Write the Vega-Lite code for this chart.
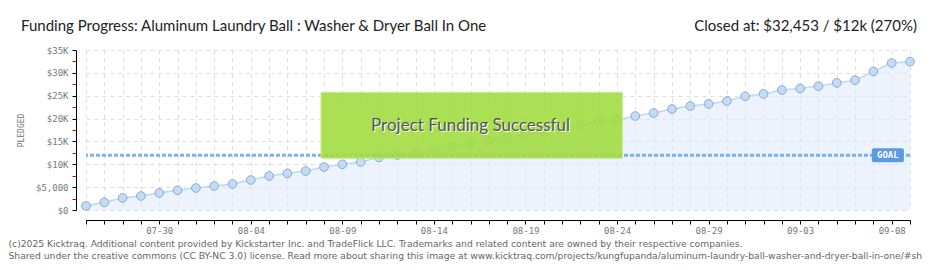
{
  "$schema": "https://vega.github.io/schema/vega-lite/v6.json",
  "width": 824,
  "height": 160,
  "autosize": {"type": "none"},
  "padding": {"left": 86, "top": 50, "right": 30, "bottom": 60},
  "background": "white",
  "config": {
    "view": {"stroke": null},
    "axis": {
      "labelFont": "DejaVu Sans Mono",
      "labelFontSize": 9,
      "labelColor": "#777777",
      "domainColor": "#000000",
      "tickColor": "#000000",
      "gridColor": "#dddddd",
      "gridDash": [4, 4]
    }
  },
  "data": {
    "values": [
      {"date": "2025-07-26", "pledged": 880},
      {"date": "2025-07-27", "pledged": 1680},
      {"date": "2025-07-28", "pledged": 2630},
      {"date": "2025-07-29", "pledged": 3060},
      {"date": "2025-07-30", "pledged": 3720},
      {"date": "2025-07-31", "pledged": 4300},
      {"date": "2025-08-01", "pledged": 4810},
      {"date": "2025-08-02", "pledged": 5250},
      {"date": "2025-08-03", "pledged": 5690},
      {"date": "2025-08-04", "pledged": 6560},
      {"date": "2025-08-05", "pledged": 7440},
      {"date": "2025-08-06", "pledged": 8020},
      {"date": "2025-08-07", "pledged": 8530},
      {"date": "2025-08-08", "pledged": 9410},
      {"date": "2025-08-09", "pledged": 10000},
      {"date": "2025-08-10", "pledged": 10500},
      {"date": "2025-08-11", "pledged": 11500},
      {"date": "2025-08-12", "pledged": 12030},
      {"date": "2025-08-13", "pledged": 12400},
      {"date": "2025-08-14", "pledged": 13050},
      {"date": "2025-08-15", "pledged": 14000},
      {"date": "2025-08-16", "pledged": 14660},
      {"date": "2025-08-17", "pledged": 15160},
      {"date": "2025-08-18", "pledged": 15800},
      {"date": "2025-08-19", "pledged": 16500},
      {"date": "2025-08-20", "pledged": 17100},
      {"date": "2025-08-21", "pledged": 17800},
      {"date": "2025-08-22", "pledged": 18600},
      {"date": "2025-08-23", "pledged": 19470},
      {"date": "2025-08-24", "pledged": 19700},
      {"date": "2025-08-25", "pledged": 20560},
      {"date": "2025-08-26", "pledged": 21200},
      {"date": "2025-08-27", "pledged": 22100},
      {"date": "2025-08-28", "pledged": 22750},
      {"date": "2025-08-29", "pledged": 23200},
      {"date": "2025-08-30", "pledged": 23850},
      {"date": "2025-08-31", "pledged": 24870},
      {"date": "2025-09-01", "pledged": 25400},
      {"date": "2025-09-02", "pledged": 26250},
      {"date": "2025-09-03", "pledged": 26600},
      {"date": "2025-09-04", "pledged": 27100},
      {"date": "2025-09-05", "pledged": 27800},
      {"date": "2025-09-06", "pledged": 28400},
      {"date": "2025-09-07", "pledged": 30300},
      {"date": "2025-09-08", "pledged": 32160},
      {"date": "2025-09-09", "pledged": 32453}
    ]
  },
  "encoding": {
    "x": {
      "field": "date",
      "type": "temporal",
      "scale": {
        "type": "utc",
        "nice": false,
        "domain": [
          {"year": 2025, "month": 7, "date": 26, "utc": true},
          {"year": 2025, "month": 9, "date": 9, "utc": true}
        ]
      },
      "axis": {
        "offset": 10,
        "tickCount": {"interval": "day", "step": 1},
        "tickSize": 4,
        "labelPadding": 2,
        "labelFlush": false,
        "labelOverlap": false,
        "labelExpr": "round((datum.value - 1753833600000) / 86400000) % 5 == 0 ? utcFormat(datum.value, '%m-%d') : ''",
        "grid": true,
        "title": [
          "(c)2025 Kicktraq. Additional content provided by Kickstarter Inc. and TradeFlick LLC. Trademarks and related content are owned by their respective companies.",
          "Shared under the creative commons (CC BY-NC 3.0) license. Read more about sharing this image at www.kicktraq.com/projects/kungfupanda/aluminum-laundry-ball-washer-and-dryer-ball-in-one/#sh"
        ],
        "titleFont": "DejaVu Sans",
        "titleFontSize": 9.2,
        "titleFontWeight": "normal",
        "titleColor": "#666666",
        "titleAnchor": "start",
        "titleAlign": "left",
        "titleBaseline": "top",
        "titleLineHeight": 12.5,
        "titleX": -78,
        "titleY": 19
      }
    },
    "y": {
      "field": "pledged",
      "type": "quantitative",
      "scale": {"domain": [0, 35000], "nice": false},
      "axis": {
        "offset": 10,
        "values": [0, 2500, 5000, 7500, 10000, 12500, 15000, 17500, 20000, 22500, 25000, 27500, 30000, 32500, 35000],
        "tickSize": 4,
        "labelPadding": 4,
        "tickColor": {"condition": {"test": "datum.value % 5000 != 0", "value": "#e00000"}, "value": "#000000"},
        "gridOpacity": {"condition": {"test": "datum.value % 5000 != 0", "value": 0}, "value": 1},
        "labelExpr": "datum.value % 5000 != 0 ? '' : (datum.value == 0 ? '$0' : (datum.value == 5000 ? '$5,000' : '$' + (datum.value / 1000) + 'K'))",
        "title": "PLEDGED",
        "titleFont": "DejaVu Sans Mono",
        "titleFontSize": 8,
        "titleFontWeight": "normal",
        "titleColor": "#777777",
        "titlePadding": 10
      }
    }
  },
  "layer": [
    {"mark": {"type": "area", "color": "#dce9fa", "opacity": 0.55}},
    {"mark": {"type": "line", "color": "#bcd8f4", "strokeWidth": 1.5}},
    {"mark": {"type": "point", "filled": true, "fill": "#c2dbf7", "stroke": "#8ea8c9", "strokeWidth": 1, "size": 75, "opacity": 1}},
    {
      "data": {"values": [{"goal": 12000}]},
      "mark": {"type": "rule", "color": "#7fb2e6", "strokeWidth": 3, "strokeDash": [4, 2]},
      "encoding": {"y": {"field": "goal", "type": "quantitative"}, "x": null}
    },
    {
      "data": {"values": [{"start": "2025-08-07T20:00:00Z", "end": "2025-08-24T07:00:00Z", "low": 11300, "high": 25750}]},
      "mark": {"type": "rect", "fill": "#a3dc42", "opacity": 0.9, "stroke": "#c4ea8a", "strokeWidth": 1},
      "encoding": {
        "x": {"field": "start", "type": "temporal"},
        "x2": {"field": "end"},
        "y": {"field": "high", "type": "quantitative"},
        "y2": {"field": "low"}
      }
    },
    {
      "data": {"values": [{"label": "Project Funding Successful", "when": "2025-08-16T00:00:00Z", "level": 18400}]},
      "mark": {"type": "text", "font": "Lato", "fontSize": 17, "color": "#ffffff", "dx": 1, "dy": 1, "align": "center", "baseline": "middle"},
      "encoding": {
        "x": {"field": "when", "type": "temporal"},
        "y": {"field": "level", "type": "quantitative"},
        "text": {"field": "label"}
      }
    },
    {
      "data": {"values": [{"label": "Project Funding Successful", "when": "2025-08-16T00:00:00Z", "level": 18400}]},
      "mark": {"type": "text", "font": "Lato", "fontSize": 17, "color": "#555555", "align": "center", "baseline": "middle"},
      "encoding": {
        "x": {"field": "when", "type": "temporal"},
        "y": {"field": "level", "type": "quantitative"},
        "text": {"field": "label"}
      }
    },
    {
      "data": {"values": [{"start": "2025-09-06T22:00:00Z", "end": "2025-09-08T16:00:00Z", "low": 10450, "high": 13500}]},
      "mark": {"type": "rect", "fill": "#5a9be0", "cornerRadius": 2},
      "encoding": {
        "x": {"field": "start", "type": "temporal"},
        "x2": {"field": "end"},
        "y": {"field": "high", "type": "quantitative"},
        "y2": {"field": "low"}
      }
    },
    {
      "data": {"values": [{"label": "GOAL", "when": "2025-09-07T19:00:00Z", "level": 12000}]},
      "mark": {"type": "text", "font": "DejaVu Sans Mono", "fontSize": 9, "fontWeight": "bold", "color": "#ffffff", "align": "center", "baseline": "middle"},
      "encoding": {
        "x": {"field": "when", "type": "temporal"},
        "y": {"field": "level", "type": "quantitative"},
        "text": {"field": "label"}
      }
    },
    {
      "data": {"values": [{"label": "Funding Progress: Aluminum Laundry Ball : Washer & Dryer Ball In One", "when": "2025-07-26T00:00:00Z", "level": 35000}]},
      "mark": {"type": "text", "font": "Lato", "fontSize": 15, "color": "#222222", "align": "left", "baseline": "alphabetic", "dx": -65, "dy": -19},
      "encoding": {
        "x": {"field": "when", "type": "temporal"},
        "y": {"field": "level", "type": "quantitative"},
        "text": {"field": "label"}
      }
    },
    {
      "data": {"values": [{"label": "Closed at:  $32,453 /  $12k (270%)", "when": "2025-09-09T00:00:00Z", "level": 35000}]},
      "mark": {"type": "text", "font": "Lato", "fontSize": 15, "color": "#222222", "align": "right", "baseline": "alphabetic", "dx": 7, "dy": -19},
      "encoding": {
        "x": {"field": "when", "type": "temporal"},
        "y": {"field": "level", "type": "quantitative"},
        "text": {"field": "label"}
      }
    }
  ]
}
